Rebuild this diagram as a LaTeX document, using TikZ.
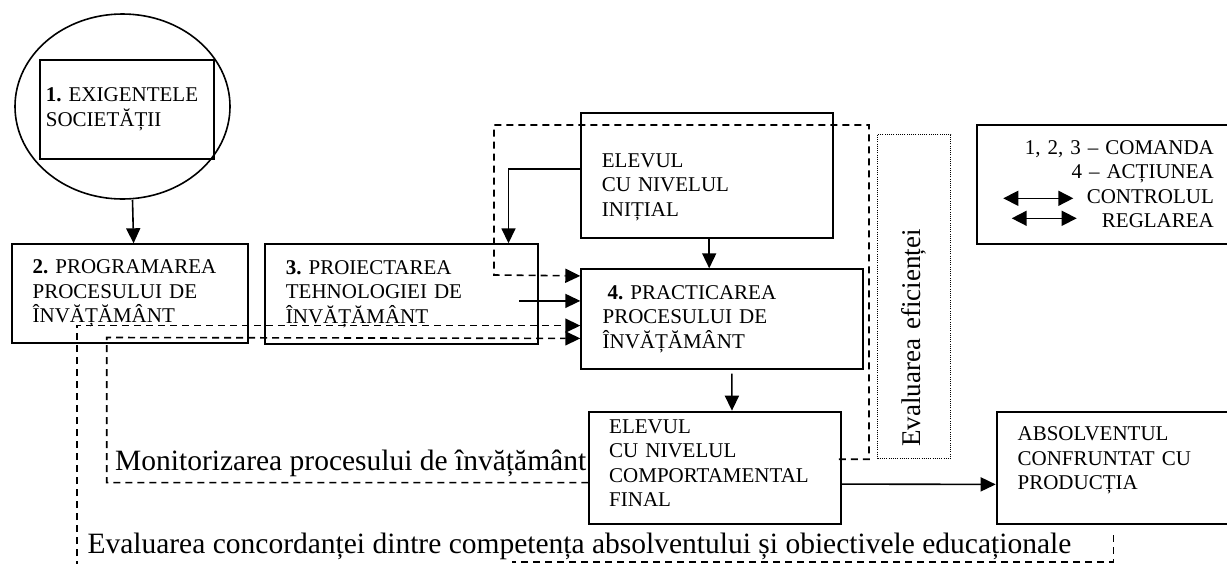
\documentclass[tikz,border=0pt]{standalone}
\usepackage{fontspec}
\setmainfont{Liberation Serif}
\usetikzlibrary{arrows.meta,shapes.geometric,calc}
\frenchspacing

\tikzset{
  bloc/.style={draw,line width=1.8pt,anchor=north west,align=left,inner ysep=0pt,font=\fontsize{21}{24.5}\selectfont},
  sageata/.style={line width=1.6pt,-{Triangle[length=15pt,width=14pt]}},
  dubla/.style={line width=1.6pt,{Triangle[length=15pt,width=15pt]}-{Triangle[length=15pt,width=15pt]}},
  intrerupt/.style={line width=1.6pt,dash pattern=on 7pt off 5pt},
  punctat/.style={draw,line width=1.1pt,dash pattern=on 1pt off 1.2pt},
  textmare/.style={inner sep=0pt,font=\fontsize{29.5}{34}\selectfont}
}

\begin{document}
\begin{tikzpicture}[x=1pt,y=-1pt]
\useasboundingbox (0,0) rectangle (1227,563);
\clip (0,0) rectangle (1227,563);

% comanda: 1, 2, 3
\node[draw,ellipse,line width=1.6pt,minimum width=215pt,minimum height=185pt] (cerc) at (122.5,106.5) {};
\node[bloc,minimum width=174pt,minimum height=99pt,text width=162.6pt,inner xsep=5.7pt] (exig) at (39.3,59) {\textbf{1.} EXIGENTELE\\SOCIETĂȚII};
\node[bloc,minimum width=236pt,minimum height=99pt,text width=194pt,inner xsep=21pt] (prog) at (10.7,243.3) {\textbf{2.} PROGRAMAREA\\PROCESULUI DE\\ÎNVĂȚĂMÂNT};
\node[bloc,minimum width=273.3pt,minimum height=100pt,text width=231.3pt,inner xsep=21pt] (proi) at (264,243.3) {\textbf{3.} PROIECTAREA\\TEHNOLOGIEI DE\\ÎNVĂȚĂMÂNT};

% actiunea: 4
\node[bloc,minimum width=251.4pt,minimum height=125pt,text width=210pt,inner xsep=20.7pt] (initial) at (580.3,112.3) {\rule{0pt}{36.8pt}ELEVUL\\CU NIVELUL\\INIȚIAL};
\node[bloc,minimum width=281.4pt,minimum height=99.4pt,text width=238.6pt,inner xsep=21.4pt] (practica) at (580.3,268.3) {\hspace*{5pt}\textbf{4.} PRACTICAREA\\PROCESULUI DE\\ÎNVĂȚĂMÂNT};
\node[bloc,minimum width=251.7pt,minimum height=112pt,text width=211.7pt,inner xsep=20pt] (final) at (588.3,410.7) {ELEVUL\\CU NIVELUL\\COMPORTAMENTAL\\FINAL\rule[-9pt]{0pt}{9pt}};
\node[bloc,minimum width=260pt,minimum height=112.6pt,text width=218pt,inner xsep=21pt] (absolv) at (995.7,410.7) {ABSOLVENTUL\\CONFRUNTAT CU\\PRODUCȚIA\rule[-19pt]{0pt}{19pt}};

% legenda
\node[bloc,minimum width=270pt,minimum height=118.7pt,text width=204.6pt,inner xsep=32.7pt,align=right] (legenda) at (975.7,124) {1, 2, 3 – COMANDA\\4 – ACȚIUNEA\\CONTROLUL\\REGLAREA};
\coordinate (ctrlS) at (1003.3,198.3);
\coordinate (ctrlD) at (1073.3,198.3);
\coordinate (regS) at (1011.7,218.3);
\coordinate (regD) at (1076.7,218.3);
\draw[dubla] (ctrlS) -- (ctrlD);
\draw[dubla] (regS) -- (regD);

% textele evaluarii
\node[punctat,rotate=90,minimum width=323.6pt,minimum height=73pt,text width=300.4pt,inner xsep=11.6pt,align=left,font=\fontsize{27}{30}\selectfont] (efic) at (914.2,296.5) {Evaluarea eficienței};
\node[textmare,anchor=base west] (monit) at (115,470.7) {Monitorizarea procesului de învățământ};
\node[textmare,anchor=base west] (concord) at (87.3,553) {Evaluarea concordanței dintre competența absolventului și obiectivele educaționale};

% sageti pline
\draw[sageata] ($(cerc.south)+(10,0)$) -- ($(prog.north)+(4,0)$);
\draw[sageata] ($(initial.west)+(0,-6.5)$) -| ($(proi.north east)+(-30.6,0)$);
\draw[sageata] ($(proi.east)+(-20,6.7)$) -- ($(practica.west)+(0,-18)$);
\draw[sageata] ($(initial.south)+(2.3,0)$) -- ($(practica.north)+(-12.7,0)$);
\draw[sageata] ($(practica.south)+(10,4)$) -- ($(final.north)+(16.9,0)$);
\draw[sageata] ($(final.east)+(0,16.5)$) -- ($(absolv.west)+(0,16.5)$);

% controlul si reglarea (intrerupt)
\coordinate (colt1) at (869,125);
\coordinate (colt2) at (494,275);
\draw[intrerupt,sageata] ($(final.east)+(-3,-8.4)$) -| (colt1) -| (colt2) -- ($(practica.west)+(0,-43)$);
\coordinate (jos) at (76.7,580);
\draw[intrerupt,sageata] (jos) |- ($(practica.west)+(0,6.7)$);
\coordinate (cotM) at (106.7,337.5);
\draw[intrerupt,sageata] ($(final.west)+(0,15)$) -| (cotM) -- ($(practica.west)+(0,19.5)$);
\coordinate (jos1) at (1113.3,535);
\coordinate (jos2) at (1113.3,561.7);
\coordinate (jos3) at (512,561.7);
\draw[intrerupt] (jos1) -- (jos2) -- (jos3);
\end{tikzpicture}
\end{document}
